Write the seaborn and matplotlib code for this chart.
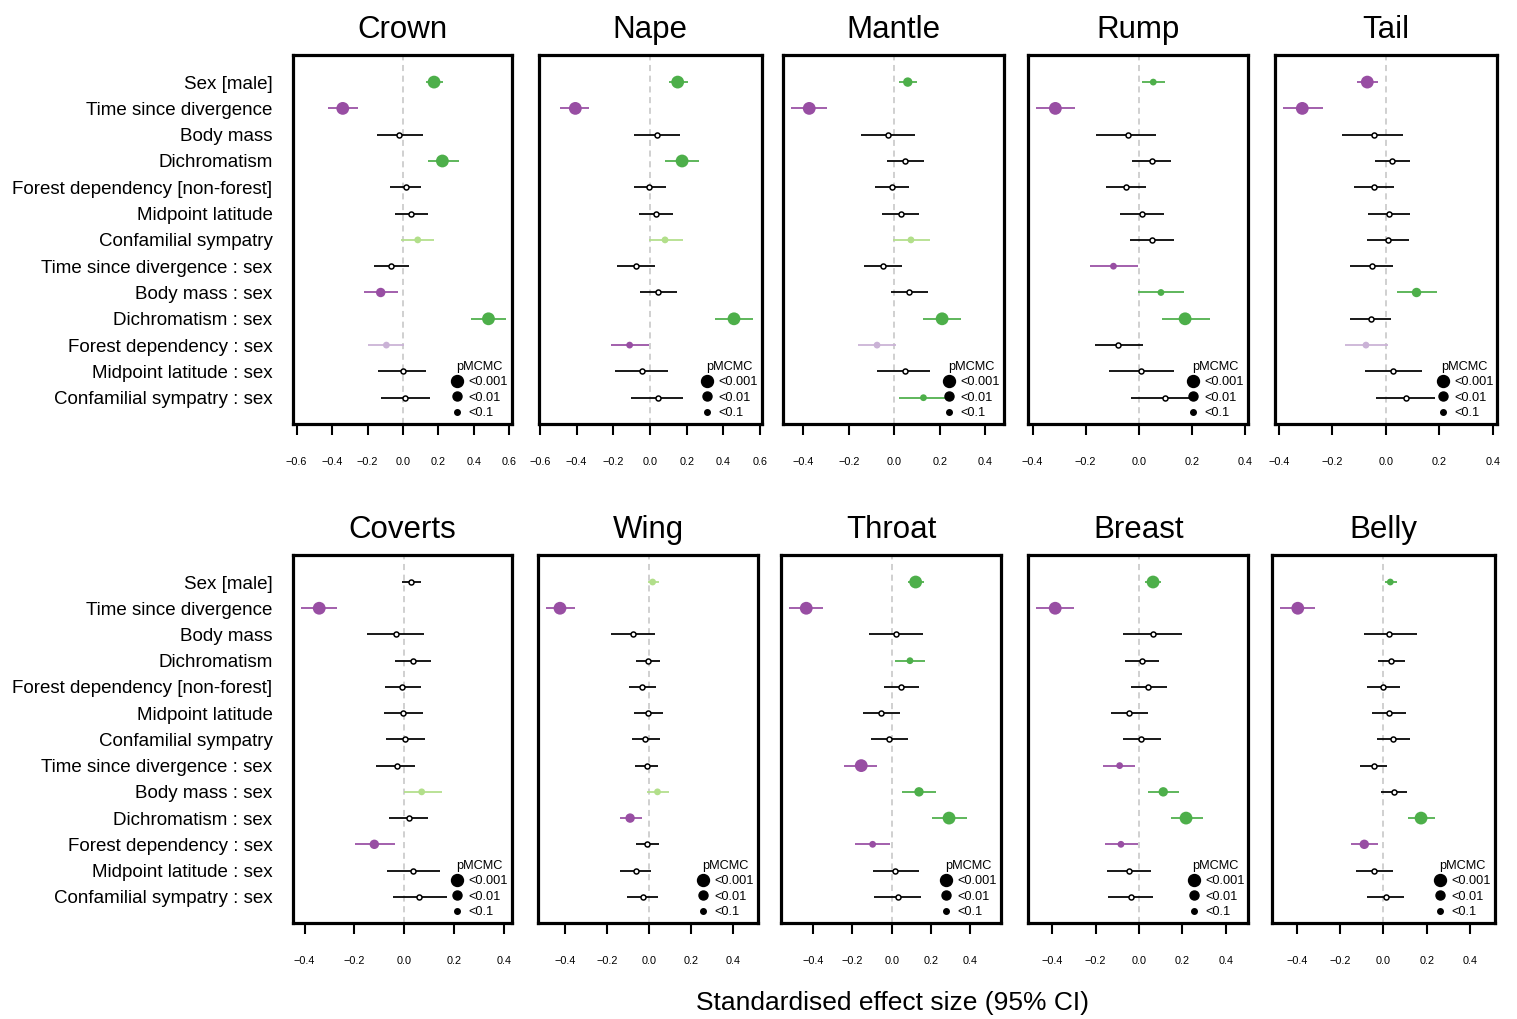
import numpy as np
import pandas as pd
import matplotlib
matplotlib.use("Agg")
import matplotlib.pyplot as plt
import seaborn as sns
from matplotlib.lines import Line2D

# ---------------- data ----------------
terms = ["Sex [male]", "Time since divergence", "Body mass", "Dichromatism",
         "Forest dependency [non-forest]", "Midpoint latitude", "Confamilial sympatry",
         "Time since divergence : sex", "Body mass : sex", "Dichromatism : sex",
         "Forest dependency : sex", "Midpoint latitude : sex", "Confamilial sympatry : sex"]

crown_est = [0.175, -0.340, -0.023, 0.222, 0.017, 0.043, 0.083, -0.066, -0.126, 0.482, -0.094, 0.000, 0.011]
crown_lo = [0.130, -0.421, -0.145, 0.139, -0.071, -0.047, -0.011, -0.164, -0.220, 0.384, -0.198, -0.143, -0.126]
crown_hi = [0.224, -0.252, 0.111, 0.318, 0.100, 0.139, 0.177, 0.034, -0.030, 0.579, 0.004, 0.128, 0.152]
crown_sig = ['g3', 'p3', 'n', 'g3', 'n', 'n', 'lg', 'n', 'p2', 'g3', 'lp', 'n', 'n']

nape_est = [0.151, -0.407, 0.038, 0.175, -0.004, 0.033, 0.082, -0.076, 0.042, 0.458, -0.111, -0.042, 0.045]
nape_lo = [0.105, -0.491, -0.085, 0.082, -0.085, -0.058, -0.007, -0.178, -0.053, 0.356, -0.211, -0.189, -0.104]
nape_hi = [0.205, -0.331, 0.162, 0.265, 0.087, 0.124, 0.178, 0.025, 0.147, 0.562, -0.004, 0.096, 0.182]
nape_sig = ['g3', 'p3', 'n', 'g3', 'n', 'n', 'lg', 'n', 'n', 'g3', 'p1', 'n', 'n']

mantle_est = [0.059, -0.374, -0.029, 0.048, -0.010, 0.031, 0.073, -0.051, 0.065, 0.210, -0.076, 0.047, 0.128]
mantle_lo = [0.019, -0.452, -0.145, -0.032, -0.087, -0.053, -0.006, -0.132, -0.015, 0.128, -0.160, -0.076, 0.021]
mantle_hi = [0.098, -0.296, 0.089, 0.130, 0.066, 0.110, 0.157, 0.032, 0.147, 0.295, 0.009, 0.157, 0.252]
mantle_sig = ['g2', 'p3', 'n', 'n', 'n', 'n', 'lg', 'n', 'n', 'g3', 'lp', 'n', 'g1']

rump_est = [0.055, -0.314, -0.040, 0.050, -0.046, 0.014, 0.052, -0.095, 0.084, 0.175, -0.077, 0.008, 0.098]
rump_lo = [0.014, -0.387, -0.160, -0.024, -0.124, -0.070, -0.031, -0.182, -0.001, 0.088, -0.165, -0.111, -0.029]
rump_hi = [0.099, -0.241, 0.067, 0.122, 0.028, 0.095, 0.133, -0.001, 0.170, 0.268, 0.016, 0.132, 0.210]
rump_sig = ['g1', 'p3', 'n', 'n', 'n', 'n', 'n', 'p1', 'g1', 'g3', 'n', 'n', 'n']

tail_est = [-0.069, -0.312, -0.044, 0.024, -0.044, 0.012, 0.010, -0.052, 0.115, -0.055, -0.074, 0.027, 0.076]
tail_lo = [-0.106, -0.383, -0.162, -0.042, -0.117, -0.067, -0.070, -0.132, 0.041, -0.135, -0.153, -0.079, -0.035]
tail_hi = [-0.030, -0.234, 0.066, 0.092, 0.032, 0.091, 0.087, 0.026, 0.192, 0.021, 0.007, 0.135, 0.184]
tail_sig = ['p3', 'p3', 'n', 'n', 'n', 'n', 'n', 'n', 'g2', 'n', 'lp', 'n', 'n']

coverts_est = [0.027, -0.341, -0.033, 0.037, -0.008, -0.005, 0.005, -0.031, 0.070, 0.020, -0.120, 0.037, 0.059]
coverts_lo = [-0.009, -0.413, -0.148, -0.036, -0.079, -0.082, -0.074, -0.114, 0.000, -0.060, -0.198, -0.068, -0.045]
coverts_hi = [0.067, -0.269, 0.078, 0.108, 0.066, 0.074, 0.084, 0.043, 0.150, 0.096, -0.039, 0.142, 0.170]
coverts_sig = ['n', 'p3', 'n', 'n', 'n', 'n', 'n', 'n', 'lg', 'n', 'p2', 'n', 'n']

wing_est = [0.017, -0.423, -0.074, -0.003, -0.032, -0.003, -0.019, -0.011, 0.040, -0.090, -0.008, -0.063, -0.030]
wing_lo = [-0.006, -0.490, -0.181, -0.062, -0.093, -0.071, -0.081, -0.068, -0.010, -0.139, -0.063, -0.136, -0.106]
wing_hi = [0.048, -0.350, 0.030, 0.054, 0.035, 0.065, 0.051, 0.041, 0.095, -0.035, 0.048, 0.011, 0.043]
wing_sig = ['lg', 'p3', 'n', 'n', 'n', 'n', 'n', 'n', 'lg', 'p2', 'n', 'n', 'n']

throat_est = [0.122, -0.435, 0.020, 0.093, 0.049, -0.056, -0.012, -0.155, 0.139, 0.292, -0.097, 0.019, 0.034]
throat_lo = [0.082, -0.523, -0.117, 0.019, -0.037, -0.148, -0.104, -0.241, 0.054, 0.206, -0.185, -0.093, -0.088]
throat_hi = [0.165, -0.348, 0.161, 0.172, 0.141, 0.041, 0.083, -0.073, 0.228, 0.382, -0.010, 0.141, 0.151]
throat_sig = ['g3', 'p3', 'n', 'g1', 'n', 'n', 'n', 'p3', 'g2', 'g3', 'p1', 'n', 'n']

breast_est = [0.065, -0.386, 0.063, 0.015, 0.041, -0.046, 0.011, -0.089, 0.112, 0.217, -0.083, -0.048, -0.035]
breast_lo = [0.028, -0.473, -0.074, -0.063, -0.037, -0.129, -0.072, -0.164, 0.040, 0.146, -0.157, -0.147, -0.143]
breast_hi = [0.101, -0.300, 0.197, 0.092, 0.127, 0.043, 0.100, -0.017, 0.186, 0.296, -0.006, 0.055, 0.063]
breast_sig = ['g3', 'p3', 'n', 'n', 'n', 'n', 'n', 'p1', 'g2', 'g3', 'p1', 'n', 'n']

belly_est = [0.032, -0.395, 0.028, 0.037, 0.000, 0.028, 0.046, -0.043, 0.048, 0.174, -0.088, -0.043, 0.012]
belly_lo = [0.006, -0.475, -0.089, -0.023, -0.074, -0.051, -0.031, -0.106, -0.011, 0.114, -0.151, -0.126, -0.077]
belly_hi = [0.065, -0.317, 0.157, 0.102, 0.075, 0.105, 0.123, 0.018, 0.109, 0.237, -0.026, 0.045, 0.097]
belly_sig = ['g1', 'p3', 'n', 'n', 'n', 'n', 'n', 'n', 'n', 'g3', 'p2', 'n', 'n']

panel_names = ["Crown", "Nape", "Mantle", "Rump", "Tail",
               "Coverts", "Wing", "Throat", "Breast", "Belly"]
panel_data = [
    (crown_est, crown_lo, crown_hi, crown_sig),
    (nape_est, nape_lo, nape_hi, nape_sig),
    (mantle_est, mantle_lo, mantle_hi, mantle_sig),
    (rump_est, rump_lo, rump_hi, rump_sig),
    (tail_est, tail_lo, tail_hi, tail_sig),
    (coverts_est, coverts_lo, coverts_hi, coverts_sig),
    (wing_est, wing_lo, wing_hi, wing_sig),
    (throat_est, throat_lo, throat_hi, throat_sig),
    (breast_est, breast_lo, breast_hi, breast_sig),
    (belly_est, belly_lo, belly_hi, belly_sig),
]
legend_labels = ["<0.001", "<0.01", "<0.1"]

# ---------------- styling / layout ----------------
sns.set_theme(style="white")
plt.rcParams["font.family"] = ["Liberation Sans", "DejaVu Sans"]
plt.rcParams["axes.unicode_minus"] = True
for k in ("text.color", "axes.labelcolor", "xtick.color", "ytick.color",
          "axes.edgecolor", "axes.titlecolor"):
    plt.rcParams[k] = "black"

GREEN, PURPLE = "#4DAF4A", "#984EA3"
LGREEN, LPURPLE = "#B2DF8A", "#CAB2D6"
palette = {"g3": GREEN, "g2": GREEN, "g1": GREEN,
           "p3": PURPLE, "p2": PURPLE, "p1": PURPLE,
           "lg": LGREEN, "lp": LPURPLE}
line_col = dict(palette, n="black")
sizes = {"g3": 85, "p3": 85, "g2": 46, "p2": 46, "g1": 24, "p1": 24, "lg": 24, "lp": 24}

W, H = 1517, 1019
lefts = [(293.3, 218.4), (539.0, 222.7), (783.3, 220.7), (1028.3, 219.4), (1275.0, 222.3),
         (293.3, 218.4), (538.3, 219.4), (781.3, 219.4), (1028.3, 220.0), (1272.0, 222.7)]
rows_y = [(55, 424), (555, 923)]
xlims = [(-0.619, 0.613), (-0.605, 0.609), (-0.488, 0.482), (-0.416, 0.411), (-0.414, 0.417),
         (-0.445, 0.431), (-0.526, 0.516), (-0.562, 0.555), (-0.510, 0.504), (-0.514, 0.514)]

fig = plt.figure(figsize=(W / 100, H / 100), dpi=100)
rows = np.arange(1, 14)

for i, name in enumerate(panel_names):
    est, lo, hi, sig = panel_data[i]
    lx, lw = lefts[i]
    y0, y1 = rows_y[i // 5]
    ax = fig.add_axes([lx / W, 1 - y1 / H, lw / W, (y1 - y0) / H])
    df = pd.DataFrame({"row": rows, "est": est, "lo": lo, "hi": hi, "sig": sig})

    ax.axvline(0, color="#c4c4c4", ls=(0, (4, 3)), lw=1.1, zorder=0)
    ax.hlines(df["row"], df["lo"], df["hi"],
              colors=[line_col[s] for s in df["sig"]], lw=1.4, zorder=1,
              alpha=0.9)
    col = df[df["sig"] != "n"]
    sns.scatterplot(data=col, x="est", y="row", hue="sig", palette=palette,
                    size="sig", sizes=sizes, legend=False, edgecolor="none",
                    linewidth=0, ax=ax, zorder=3)
    ns = df[df["sig"] == "n"]
    sns.scatterplot(data=ns, x="est", y="row", color="white", edgecolor="black",
                    linewidth=1.1, s=13, legend=False, ax=ax, zorder=3)

    ax.set_xlim(*xlims[i])
    ax.set_ylim(14.0, -0.03)
    ticks = np.round(np.arange(-0.6, 0.61, 0.2), 1) if i < 2 else np.round(np.arange(-0.4, 0.41, 0.2), 1)
    ax.set_xticks(ticks)
    ax.set_xticklabels([f"{t:.1f}".replace("-", "\u2212") for t in ticks])
    ax.tick_params(axis="x", direction="out", length=8, width=1.5, pad=16,
                   labelsize=7.8, color="black", labelcolor="black", bottom=True)
    if i % 5 == 0:
        ax.set_yticks(rows)
        ax.set_yticklabels(terms, fontsize=13.5, color="black")
        ax.tick_params(axis="y", length=0, pad=15)
    else:
        ax.set_yticks([])
    ax.set_xlabel("")
    ax.set_ylabel("")
    for sp in ax.spines.values():
        sp.set_visible(True)
        sp.set_color("black")
        sp.set_linewidth(2.3)
    ax.set_title(name, fontsize=22.5, pad=12, color="black")

    handles = [Line2D([], [], marker="o", ls="", color="black", markersize=m)
               for m in (8.6, 6.5, 4.0)]
    leg = ax.legend(handles, legend_labels, title="pMCMC", loc="lower right",
                    bbox_to_anchor=(1.0, 0.003),
                    frameon=False, fontsize=9.2, title_fontsize=9.2,
                    handlelength=1.0, handletextpad=0.4, labelspacing=0.26,
                    borderpad=0.2, borderaxespad=0.1)
    for t in leg.get_texts():
        t.set_color("black")
    leg.get_title().set_color("black")
    leg.set_zorder(5)

fig.text(892 / W, 1 - 1003 / H, "Standardised effect size (95% CI)",
         ha="center", va="center", fontsize=19, color="black")

fig.savefig("out.png", dpi=100)
